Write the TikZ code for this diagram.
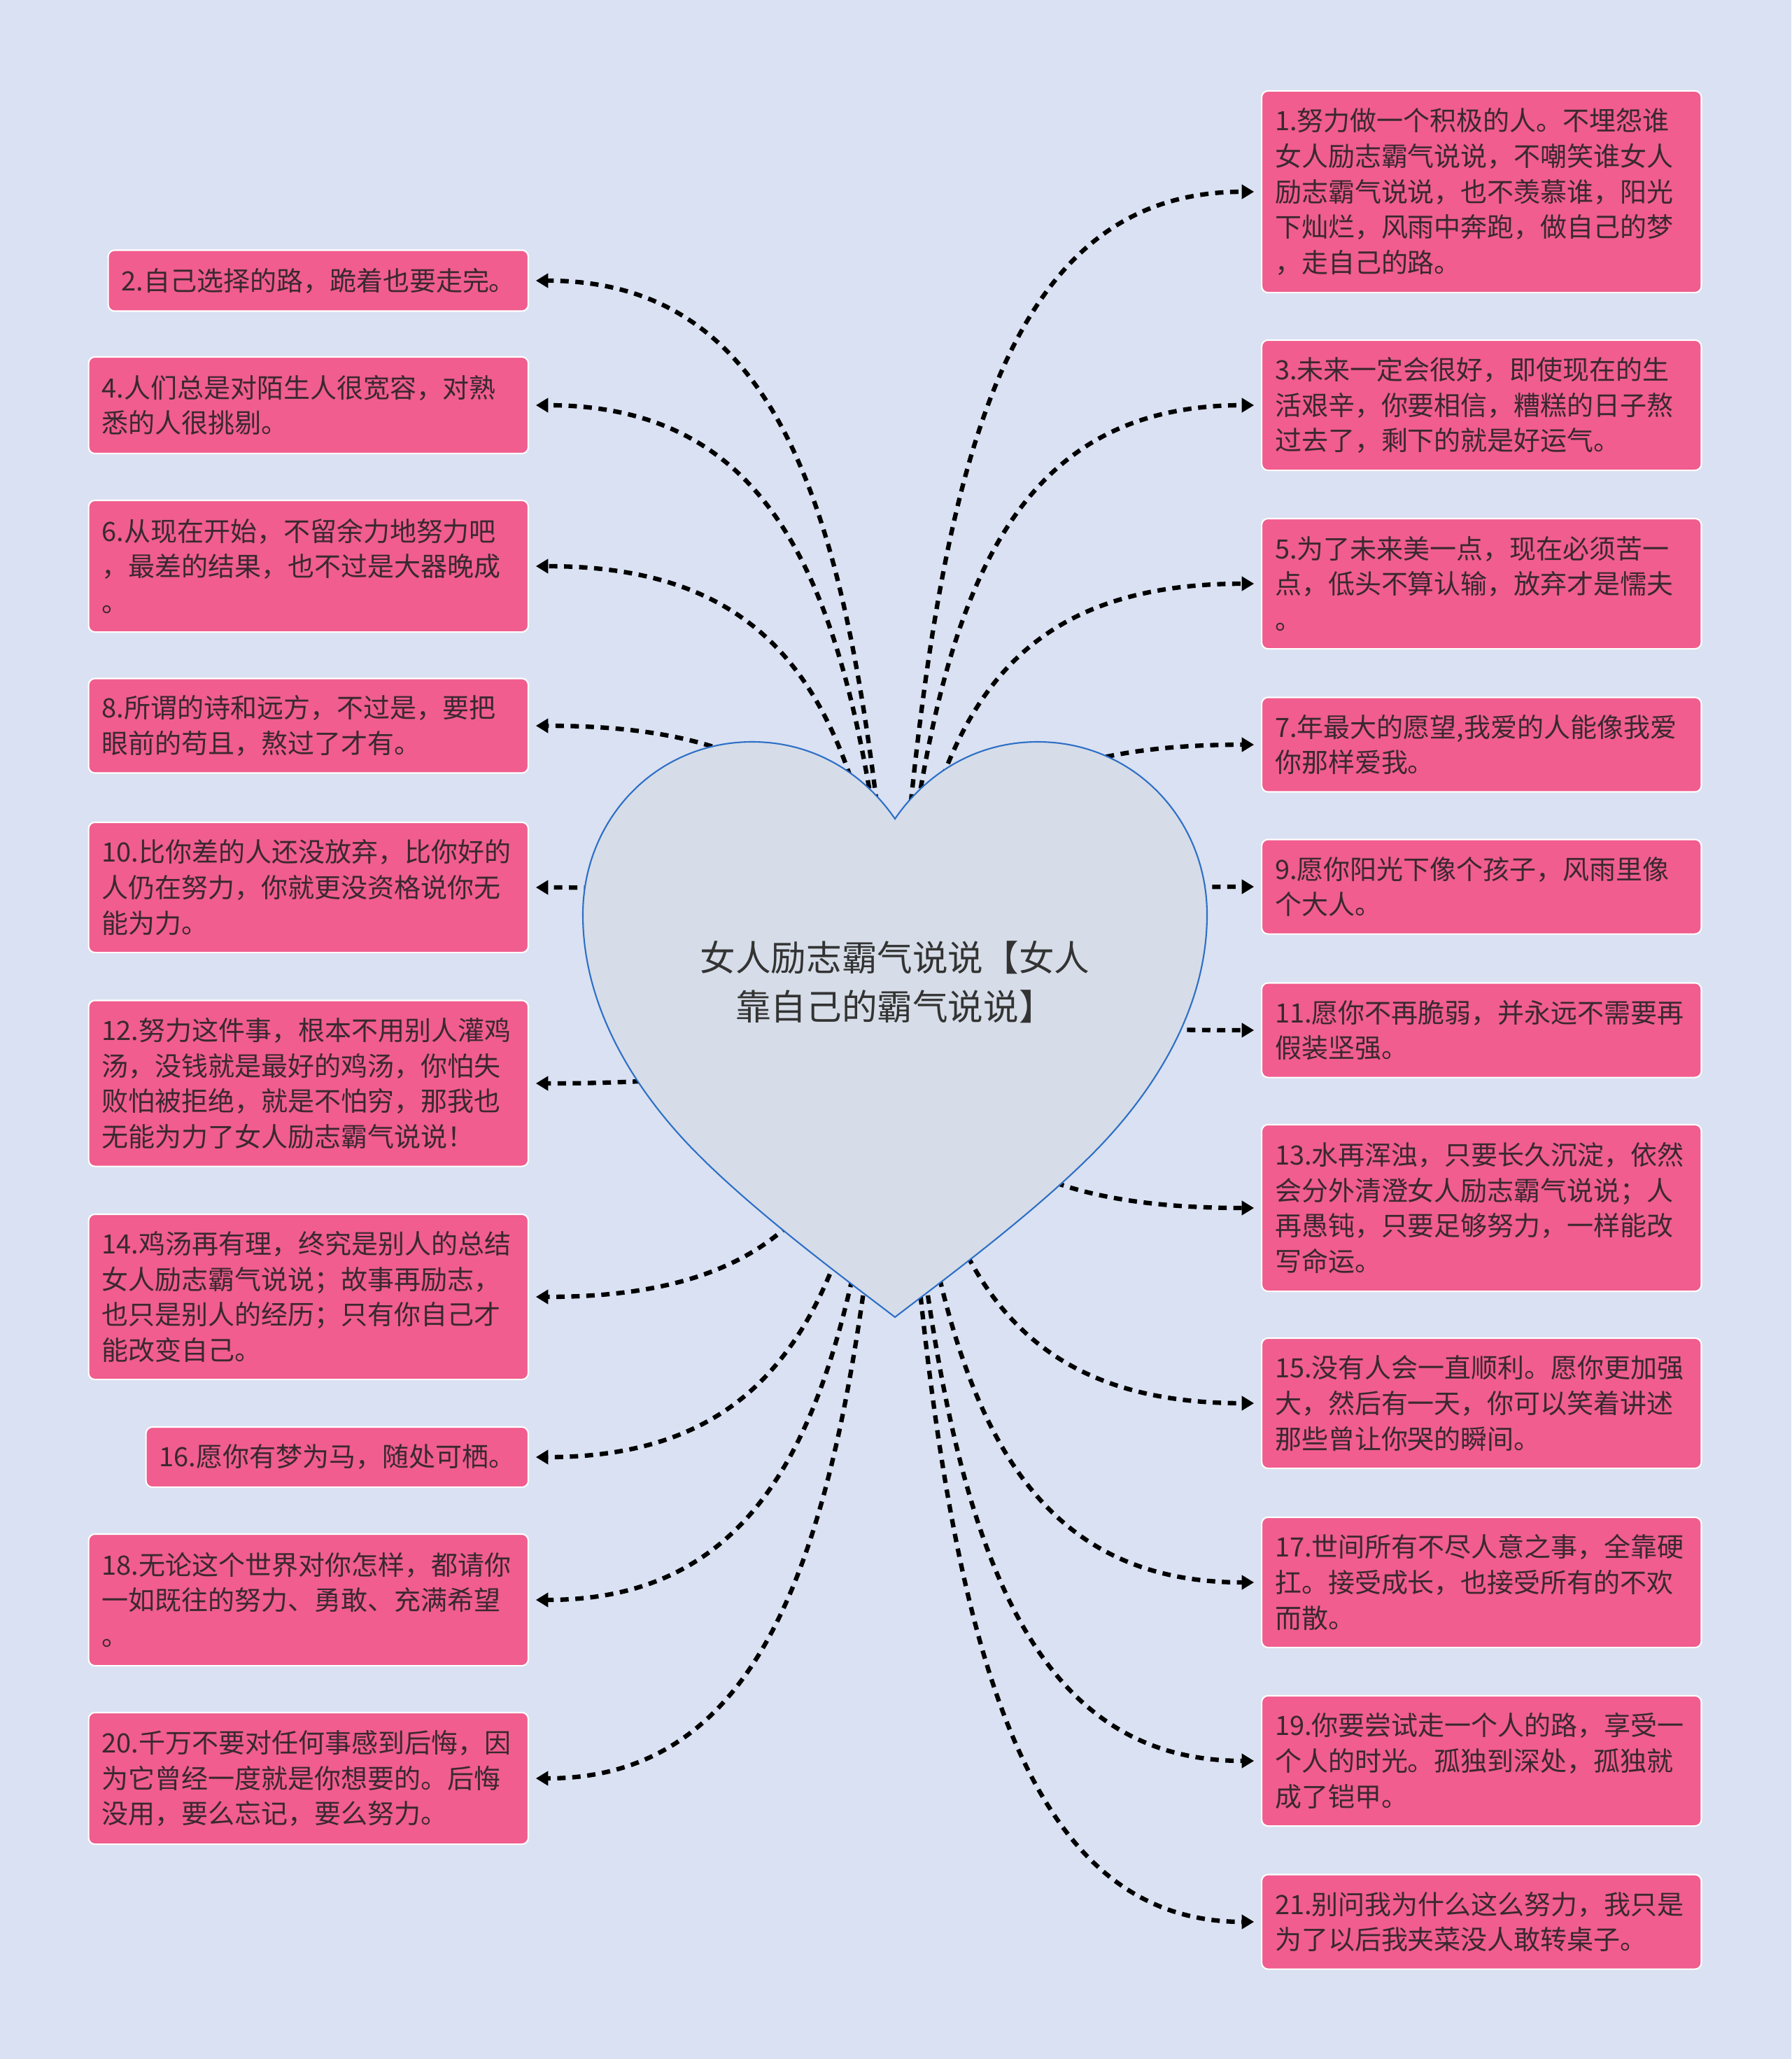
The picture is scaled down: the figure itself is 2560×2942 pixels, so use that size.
\documentclass[tikz,border=0pt]{standalone}
\usepackage{fontspec}
\setmainfont{Noto Sans CJK SC}
\usetikzlibrary{arrows.meta,calc}
\definecolor{bgblue}{RGB}{217,225,242}
\definecolor{heartfill}{RGB}{214,221,232}
\definecolor{heartline}{RGB}{46,111,198}
\definecolor{boxpink}{RGB}{240,93,142}
\definecolor{inkdark}{RGB}{58,40,48}
\definecolor{titleink}{RGB}{51,51,51}
\pgfdeclarelayer{bg}
\pgfdeclarelayer{links}
\pgfsetlayers{bg,links,main}

\tikzset{
  saybox/.style={draw=white, line width=0.6pt, fill=boxpink, rounded corners=2.6pt,
    text=inkdark, font=\fontsize{10.8}{14.4}\selectfont, align=left,
    inner xsep=0.19cm, inner ysep=0pt},
  link/.style={line width=1.8pt, dash pattern=on 3.4pt off 2.7pt,
    -{Triangle[length=5pt,width=5.7pt]}, shorten >=2.8pt,
    to path={let \p1=(\tikztostart), \p2=(\tikztotarget) in
      .. controls ({0.9*\x1+0.1*\x2},{0.4*\y1+0.6*\y2}) and ({0.75*\x1+0.25*\x2},\y2) .. (\p2)}},
}

\begin{document}
\begin{tikzpicture}[x=0.01cm, y=-0.01cm]
% background
\begin{pgfonlayer}{bg}
  \fill[bgblue] (0,0) rectangle (2560,2942);
\end{pgfonlayer}
% heart
\path[draw=heartline, line width=0.6pt, fill=heartfill]
  (1279,1170) .. controls (1320,1110) and (1390,1060) .. (1483,1060)
  .. controls (1620,1060) and (1725,1170) .. (1725,1307)
  .. controls (1725,1440) and (1650,1560) .. (1560,1650)
  .. controls (1470,1740) and (1340,1835) .. (1279,1882)
  .. controls (1218,1835) and (1088,1740) .. (998,1650)
  .. controls (908,1560) and (833,1440) .. (833,1307)
  .. controls (833,1170) and (938,1060) .. (1075,1060)
  .. controls (1168,1060) and (1238,1110) .. (1279,1170) -- cycle;
\node[font=\fontsize{14.4}{19.8}\selectfont, text=titleink, align=center] (title) at (1279,1403)
  {女人励志霸气说说【女人\\靠自己的霸气说说】};
% right column
\foreach \k/\y/\h/\txt in {
  1/274/2.88/{1.努力做一个积极的人。不埋怨谁\\女人励志霸气说说，不嘲笑谁女人\\励志霸气说说，也不羡慕谁，阳光\\下灿烂，风雨中奔跑，做自己的梦\\，走自己的路。},
  3/579/1.86/{3.未来一定会很好，即使现在的生\\活艰辛，你要相信，糟糕的日子熬\\过去了，剩下的就是好运气。},
  5/834/1.86/{5.为了未来美一点，现在必须苦一\\点，低头不算认输，放弃才是懦夫\\。},
  7/1064/1.35/{7.年最大的愿望,我爱的人能像我爱\\你那样爱我。},
  9/1267/1.35/{9.愿你阳光下像个孩子，风雨里像\\个大人。},
  11/1472/1.35/{11.愿你不再脆弱，并永远不需要再\\假装坚强。},
  13/1726/2.38/{13.水再浑浊，只要长久沉淀，依然\\会分外清澄女人励志霸气说说；人\\再愚钝，只要足够努力，一样能改\\写命运。},
  15/2005/1.86/{15.没有人会一直顺利。愿你更加强\\大，然后有一天，你可以笑着讲述\\那些曾让你哭的瞬间。},
  17/2261/1.86/{17.世间所有不尽人意之事，全靠硬\\扛。接受成长，也接受所有的不欢\\而散。},
  19/2516/1.86/{19.你要尝试走一个人的路，享受一\\个人的时光。孤独到深处，孤独就\\成了铠甲。},
  21/2746/1.35/{21.别问我为什么这么努力，我只是\\为了以后我夹菜没人敢转桌子。}}{
  \node[saybox, text width=5.9cm, minimum height=\h cm, anchor=west] (b\k) at (1802,\y) {\txt};
}
% left column
\foreach \k/\y/\h/\w/\txt in {
  2/401/0.87/5.62/{2.自己选择的路，跪着也要走完。},
  4/579/1.38/5.9/{4.人们总是对陌生人很宽容，对熟\\悉的人很挑剔。},
  6/809/1.88/5.9/{6.从现在开始，不留余力地努力吧\\，最差的结果，也不过是大器晚成\\。},
  8/1037/1.35/5.9/{8.所谓的诗和远方，不过是，要把\\眼前的苟且，熬过了才有。},
  10/1268/1.86/5.9/{10.比你差的人还没放弃，比你好的\\人仍在努力，你就更没资格说你无\\能为力。},
  12/1548/2.37/5.9/{12.努力这件事，根本不用别人灌鸡\\汤，没钱就是最好的鸡汤，你怕失\\败怕被拒绝，就是不怕穷，那我也\\无能为力了女人励志霸气说说！},
  14/1853/2.36/5.9/{14.鸡汤再有理，终究是别人的总结\\女人励志霸气说说；故事再励志，\\也只是别人的经历；只有你自己才\\能改变自己。},
  16/2082/0.86/5.08/{16.愿你有梦为马，随处可栖。},
  18/2286/1.88/5.9/{18.无论这个世界对你怎样，都请你\\一如既往的努力、勇敢、充满希望\\。},
  20/2541/1.88/5.9/{20.千万不要对任何事感到后悔，因\\为它曾经一度就是你想要的。后悔\\没用，要么忘记，要么努力。}}{
  \node[saybox, text width=\w cm, minimum height=\h cm, anchor=east] (b\k) at (756,\y) {\txt};
}
% connectors behind the heart
\begin{pgfonlayer}{links}
  \foreach \k in {1,3,...,21} \draw[link] (title.center) to (b\k.west);
  \foreach \k in {2,4,...,20} \draw[link] (title.center) to (b\k.east);
\end{pgfonlayer}
\end{tikzpicture}
\end{document}
